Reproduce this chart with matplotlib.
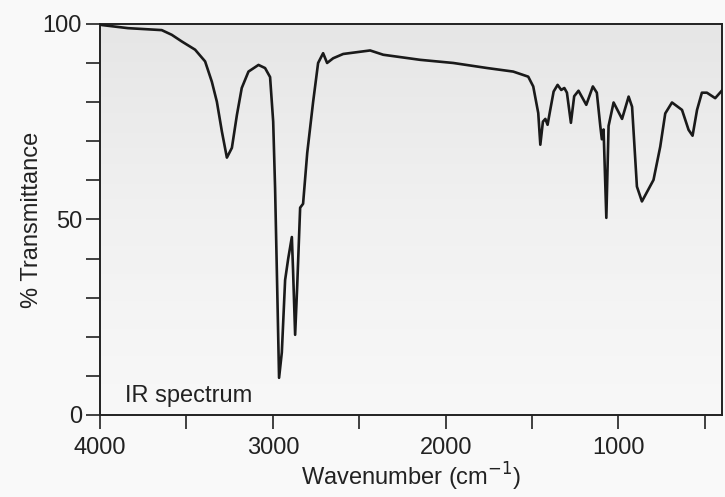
import matplotlib
matplotlib.use("Agg")
import matplotlib.pyplot as plt
import numpy as np
from matplotlib.colors import LinearSegmentedColormap
from matplotlib.ticker import MultipleLocator

plt.rcParams['font.family'] = ['Liberation Sans', 'DejaVu Sans']

# spectrum (wavenumber in cm-1, % transmittance)
wavenumber = [4000, 3990, 3838, 3643, 3585, 3527, 3450, 3392, 3353, 3324, 3295,
              3266, 3237, 3208, 3180, 3141, 3083, 3045, 3016, 2998, 2987, 2975,
              2964, 2948, 2929, 2911, 2890, 2883, 2871, 2859, 2842, 2825, 2801,
              2767, 2738, 2709, 2686, 2651, 2593, 2437, 2361, 2147, 1956, 1759,
              1609, 1522, 1493, 1464, 1452, 1437, 1423, 1410, 1395, 1375, 1352,
              1331, 1313, 1298, 1275, 1256, 1231, 1186, 1148, 1125, 1105, 1096,
              1086, 1070, 1057, 1028, 979, 941, 921, 893, 864, 797, 758, 729,
              690, 632, 594, 571, 545, 517, 488, 440, 400]
transmittance = [100, 99.7, 98.9, 98.4, 97.2, 95.5, 93.4, 90.4, 85.2, 80.1, 72.5,
                 65.8, 68.3, 76.7, 83.6, 87.8, 89.5, 88.7, 86.4, 75, 58, 33,
                 9.5, 16, 34.5, 40, 45.5, 37, 20.5, 33, 53, 54, 67,
                 80, 90, 92.5, 90, 91.2, 92.3, 93.2, 92.1, 90.8, 90, 88.7,
                 87.8, 86.5, 84, 77.2, 69.1, 75, 75.7, 74.2, 77.9, 82.7, 84.4,
                 83.1, 83.6, 82.4, 74.7, 81.5, 82.9, 79.3, 84, 82.4, 73.9, 70.5,
                 73, 50.4, 73.9, 79.9, 75.7, 81.4, 78.8, 58.4, 54.6, 60.1, 68.6, 77.1,
                 79.9, 78, 72.9, 71.4, 78, 82.4, 82.4, 81, 83]

x_ticks = [4000, 3000, 2000, 1000]
y_ticks = [0, 50, 100]

fig = plt.figure(figsize=(7.25, 4.97), dpi=100, facecolor='#f9f9f9')
ax = fig.add_axes([0.138, 0.165, 0.858, 0.787])

# faint grey wash like the scanned chart paper, darker near the top
paper = LinearSegmentedColormap.from_list('paper', ['#f8f8f8', '#f1f1f1', '#e6e6e6'])
grad = np.linspace(0, 1, 100).reshape(-1, 1)
ax.imshow(grad, extent=[4000, 400, 0, 100], aspect='auto', cmap=paper,
          origin='lower', zorder=0)

ax.plot(wavenumber, transmittance, color='#1a1a1a', lw=1.9, zorder=3)

ax.set_xlim(4000, 400)
ax.set_ylim(0, 100)
ax.set_xticks(x_ticks)
ax.xaxis.set_minor_locator(MultipleLocator(500))
ax.set_yticks(y_ticks)
ax.yaxis.set_minor_locator(MultipleLocator(10))

ax.tick_params(axis='both', which='both', direction='out', width=1.2,
               colors='#222222', labelsize=17, length=10)
ax.tick_params(axis='x', pad=6)
ax.tick_params(axis='y', pad=3)

for s in ax.spines.values():
    s.set_linewidth(1.4)
    s.set_color('#222222')

ax.set_xlabel('Wavenumber (cm$^{-1}$)', fontsize=17, color='#222222', labelpad=1)
ax.set_ylabel('% Transmittance', fontsize=17, color='#222222', labelpad=0)

ax.text(3855, 3.3, 'IR spectrum', fontsize=17, color='#222222', zorder=4)

fig.savefig('out.png', dpi=100, facecolor=fig.get_facecolor())
